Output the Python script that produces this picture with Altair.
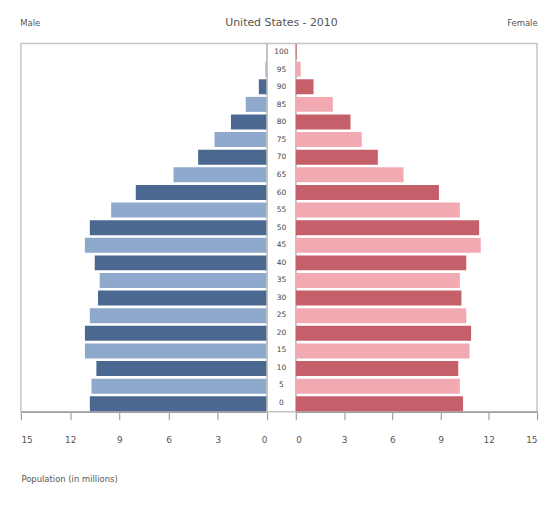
import altair as alt
import pandas as pd

# Age groups (lower bound of each 5-year band)
ages = [0, 5, 10, 15, 20, 25, 30, 35, 40, 45, 50, 55, 60, 65, 70, 75, 80, 85, 90, 95, 100]
# Population in millions
male = [10.8, 10.7, 10.4, 11.1, 11.1, 10.8, 10.3, 10.2, 10.5, 11.1, 10.8,
        9.5, 8.0, 5.7, 4.2, 3.2, 2.2, 1.3, 0.5, 0.1, 0.02]
female = [10.4, 10.2, 10.1, 10.8, 10.9, 10.6, 10.3, 10.2, 10.6, 11.5, 11.4,
          10.2, 8.9, 6.7, 5.1, 4.1, 3.4, 2.3, 1.1, 0.3, 0.05]
tick_values = [0, 3, 6, 9, 12, 15]

df = pd.DataFrame({"age": ages, "male": male, "female": female})

FONT = "DejaVu Sans"
TXT = "#555555"
H = 371

yenc = alt.Y("age:O", sort="descending", axis=None,
             scale=alt.Scale(paddingInner=0.15, paddingOuter=0.03))

base = alt.Chart(df)

left = base.mark_bar().encode(
    x=alt.X("male:Q",
            scale=alt.Scale(domain=[0, 15], reverse=True, nice=False),
            axis=alt.Axis(values=tick_values, title="Population (in millions)",
                          titleX=0, titleY=70, titleAlign="left",
                          titleBaseline="alphabetic", titleFontSize=8.5,
                          titleFontWeight="normal", titleColor=TXT,
                          titleFont=FONT)),
    y=yenc,
    color=alt.condition("datum.age % 10 == 0", alt.value("#4a6890"), alt.value("#8fa9cc")),
).properties(width=248, height=H,
             title=alt.TitleParams("Male", anchor="start", fontSize=8.5,
                                   fontWeight="normal", color=TXT, font=FONT,
                                   offset=16))

mid = base.mark_text(fontSize=7.5, color="#444444", font=FONT).encode(
    y=yenc,
    text="age:O",
    x=alt.value(14.5),
).properties(width=29, height=H,
             title=alt.TitleParams("United States - 2010", anchor="middle",
                                   fontSize=11, fontWeight="normal", color=TXT,
                                   font=FONT, offset=16))

right = base.mark_bar().encode(
    x=alt.X("female:Q",
            scale=alt.Scale(domain=[0, 15], nice=False),
            axis=alt.Axis(values=tick_values, title=None)),
    y=yenc,
    color=alt.condition("datum.age % 10 == 0", alt.value("#c5606a"), alt.value("#f2aab2")),
).properties(width=243, height=H,
             title=alt.TitleParams("Female", anchor="end", fontSize=8.5,
                                   fontWeight="normal", color=TXT, font=FONT,
                                   offset=16))

chart = alt.hconcat(left, mid, right, spacing=0, bounds="flush").properties(
    padding={"left": 11, "top": 6, "right": 2, "bottom": 2},
    background="white",
).configure_view(
    stroke="#c4c4c4", strokeWidth=1.5
).configure_axis(
    grid=False, domainColor="#a0a0a0", tickColor="#a0a0a0", tickSize=8,
    labelColor=TXT, labelFontSize=9, labelFont=FONT, labelPadding=16,
    domainWidth=1.5, tickWidth=1.2
)

chart.save("out.html", embed_options={"renderer": "svg", "actions": False})
